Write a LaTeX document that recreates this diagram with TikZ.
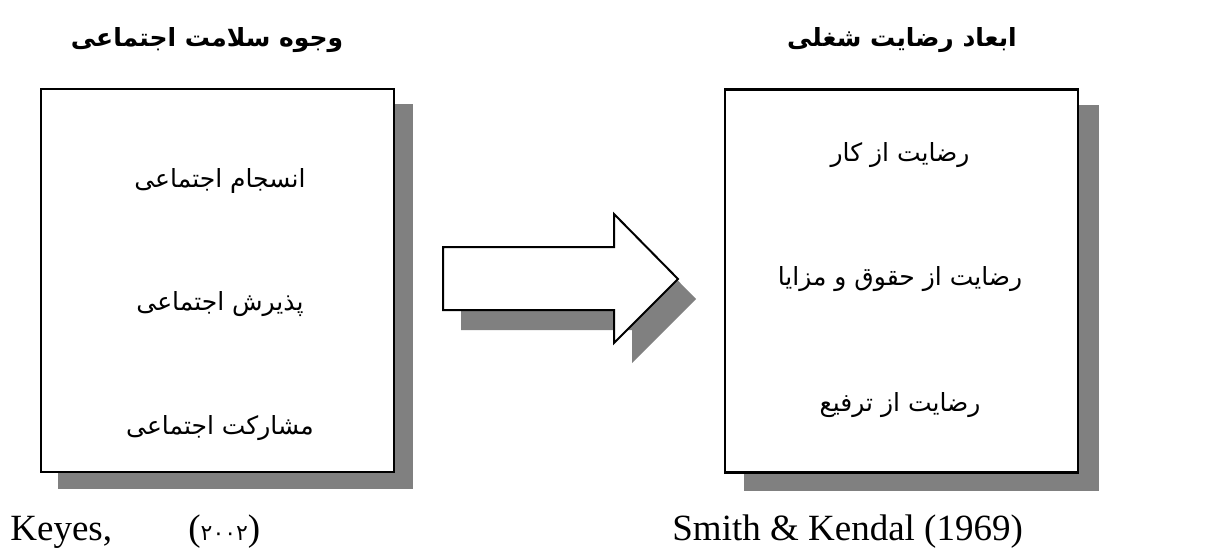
\documentclass[tikz,border=0pt]{standalone}
\usepackage{fontspec}
\setmainfont{Liberation Serif}
\newfontfamily\fa[Script=Arabic]{DejaVu Sans}
\newfontfamily\fadigits{DejaVu Sans}
\TeXXeTstate=1
\usetikzlibrary{backgrounds}
\definecolor{shade}{HTML}{808080}
\tikzset{
  panel/.style={draw=black, line width=1.2pt, fill=white, rectangle,
    minimum width=176.5pt, minimum height=191.5pt, inner sep=0pt},
  heading/.style={font=\fa\bfseries\fontsize{12.5}{15}\selectfont, inner sep=0pt},
  item/.style={font=\fa\fontsize{12.5}{15}\selectfont, inner sep=0pt},
  cite/.style={font=\fontsize{18.5}{21}\selectfont, inner sep=0pt, anchor=base west},
  arrowbody/.style={draw=black, line width=1pt, fill=white, line join=miter},
  shadowfill/.style={fill=shade, draw=none}
}
\begin{document}
\begin{tikzpicture}[x=0.5pt,y=-0.5pt]
\useasboundingbox (0,0) rectangle (1219,551);

% panels
\node[panel] (left) at (217.5,280.5) {};
\node[panel] (right) at (901.5,281) {};
\begin{scope}[on background layer]
  \fill[shadowfill] ([shift={(18,16)}]left.south west) rectangle ([shift={(18,16)}]left.north east);
  \fill[shadowfill] ([shift={(20,17)}]right.south west) rectangle ([shift={(20,17)}]right.north east);
\end{scope}

% block arrow with its shadow
\fill[shadowfill, shift={(18,20)}]
  (443,247) -- (614,247) -- (614,214) -- (678,279) -- (614,343) -- (614,310) -- (443,310) -- cycle;
\draw[arrowbody]
  (443,247) -- (614,247) -- (614,214) -- (678,279) -- (614,343) -- (614,310) -- (443,310) -- cycle;

% headings
\node[heading] (lefttitle) at (207,40) {\beginR وجوه سلامت اجتماعی\endR};
\node[heading] (righttitle) at (902,40) {\beginR ابعاد رضایت شغلی\endR};

% items of the left panel
\node[item] (l1) at (220,181) {\beginR انسجام اجتماعی\endR};
\node[item] (l2) at (220,304) {\beginR پذیرش اجتماعی\endR};
\node[item] (l3) at (220,428) {\beginR مشارکت اجتماعی\endR};

% items of the right panel
\node[item] (r1) at (900,155) {\beginR رضایت از کار\endR};
\node[item] (r2) at (900,279) {\beginR رضایت از حقوق و مزایا\endR};
\node[item] (r3) at (900,405) {\beginR رضایت از ترفیع\endR};

% sources
\node[cite] (src1) at (10,540) {Keyes,};
\node[cite] (src1y) at (188,540) {({\fadigits\fontsize{11}{13}\selectfont ۲۰۰۲})};
\node[cite] (src2) at (672,540) {Smith \& Kendal (1969)};
\end{tikzpicture}
\end{document}
